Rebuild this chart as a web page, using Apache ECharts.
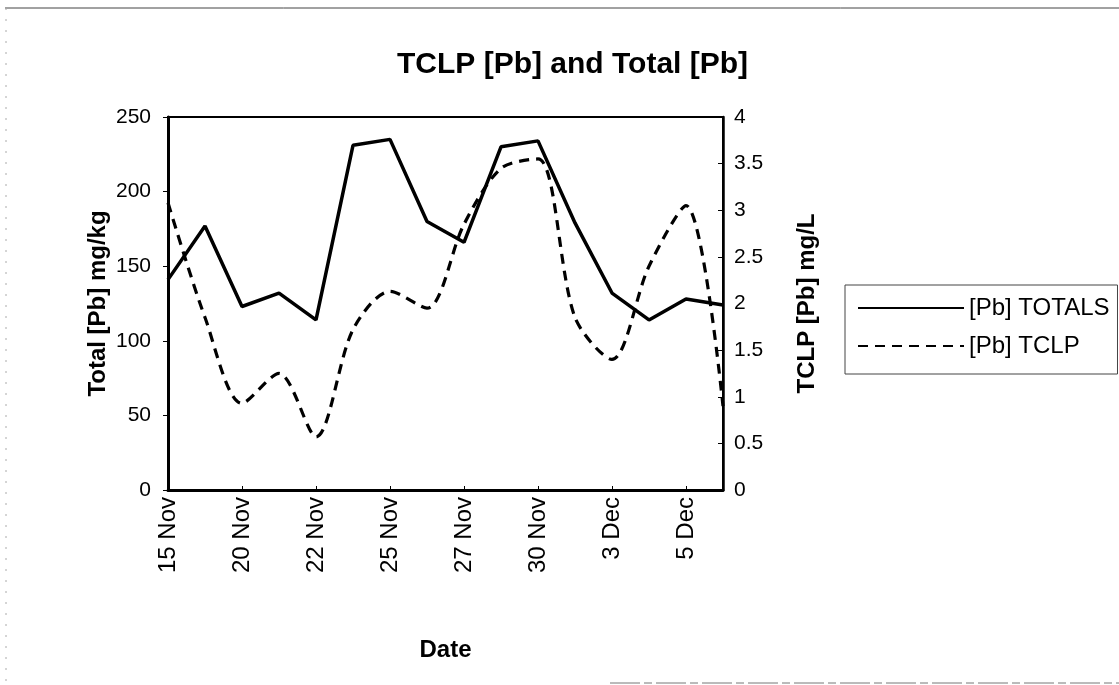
<!DOCTYPE html>
<html>
<head>
<meta charset="utf-8">
<title>TCLP [Pb] and Total [Pb]</title>
<script src="https://cdn.jsdelivr.net/npm/echarts@6/dist/echarts.min.js"></script>
<style>
  html, body { margin: 0; padding: 0; background: #fff; }
  #chart { width: 1119px; height: 685px; }
</style>
</head>
<body>
<div id="chart"></div>
<script>
// Sampling dates (every other one is labelled on the axis)
const dates = ['15 Nov', '18 Nov', '20 Nov', '21 Nov', '22 Nov', '23 Nov', '25 Nov', '26 Nov',
               '27 Nov', '29 Nov', '30 Nov', '1 Dec', '3 Dec', '4 Dec', '5 Dec', '6 Dec'];

// Total lead, mg/kg (left axis)
const totalPb = [141, 177, 123, 132, 114, 231, 235, 180, 166, 230, 234, 179, 132, 114, 128, 124];

// TCLP lead, mg/L (right axis)
const tclpPb = [3.08, 1.85, 0.93, 1.25, 0.57, 1.72, 2.13, 1.95, 2.85, 3.45, 3.55, 1.85, 1.4, 2.4, 3.05, 0.9];

const FONT = '"Liberation Sans", Arial, sans-serif';

const chart = echarts.init(document.getElementById('chart'), null, { renderer: 'canvas' });

chart.setOption({
  backgroundColor: '#fff',
  animation: false,
  title: {
    text: 'TCLP [Pb] and Total [Pb]',
    left: 397,
    top: 50,
    padding: 0,
    textStyle: { fontFamily: FONT, fontSize: 30, fontWeight: 'bold', color: '#000' }
  },
  legend: {
    orient: 'vertical',
    left: 845,
    top: 285,
    padding: [11, 8, 16, 12],
    itemGap: 14,
    itemWidth: 106,
    itemHeight: 14,
    backgroundColor: '#fff',
    borderColor: '#444',
    borderWidth: 1,
    // legend keys are plain line samples, no markers
    itemStyle: { opacity: 0 },
    textStyle: { fontFamily: FONT, fontSize: 24, color: '#000' },
    data: ['[Pb] TOTALS', '[Pb] TCLP']
  },
  grid: {
    left: 168,
    right: 396,
    top: 117,
    bottom: 195,
    show: true,
    borderColor: '#000',
    borderWidth: 2,
    backgroundColor: '#fff'
  },
  xAxis: {
    type: 'category',
    data: dates,
    boundaryGap: false,
    name: 'Date',
    nameLocation: 'middle',
    nameGap: 148,
    nameTextStyle: { fontFamily: FONT, fontSize: 24, fontWeight: 'bold', color: '#000' },
    axisLine: { lineStyle: { color: '#000', width: 3 } },
    axisTick: { show: true, inside: true, length: 4, interval: 1, lineStyle: { color: '#000', width: 1 } },
    axisLabel: {
      interval: 1,
      rotate: 90,
      margin: 7,
      fontFamily: FONT,
      fontSize: 24,
      color: '#000'
    },
    splitLine: { show: false }
  },
  yAxis: [
    {
      type: 'value',
      position: 'left',
      min: 0,
      max: 250,
      interval: 50,
      name: 'Total [Pb] mg/kg',
      nameLocation: 'middle',
      nameGap: 58,
      nameTextStyle: { fontFamily: FONT, fontSize: 24, fontWeight: 'bold', color: '#000' },
      axisLine: { show: true, lineStyle: { color: '#000', width: 3 } },
      axisTick: { show: true, length: 5, lineStyle: { color: '#000', width: 1 } },
      axisLabel: { margin: 17, fontFamily: FONT, fontSize: 21, color: '#000' },
      splitLine: { show: false }
    },
    {
      type: 'value',
      position: 'right',
      min: 0,
      max: 4,
      interval: 0.5,
      name: 'TCLP [Pb] mg/L',
      nameLocation: 'middle',
      nameGap: 72,
      nameTextStyle: { fontFamily: FONT, fontSize: 24, fontWeight: 'bold', color: '#000' },
      axisLine: { show: true, lineStyle: { color: '#000', width: 2.5 } },
      axisTick: { show: true, inside: true, length: 5, lineStyle: { color: '#000', width: 1 } },
      axisLabel: { margin: 11, fontFamily: FONT, fontSize: 21, color: '#000' },
      splitLine: { show: false }
    }
  ],
  series: [
    {
      name: '[Pb] TOTALS',
      type: 'line',
      yAxisIndex: 0,
      data: totalPb,
      symbol: 'none',
      lineStyle: { color: '#000', width: 3.5, type: 'solid' },
      itemStyle: { color: '#000' },
      z: 3
    },
    {
      name: '[Pb] TCLP',
      type: 'line',
      yAxisIndex: 1,
      data: tclpPb,
      symbol: 'none',
      smooth: 0.3,
      lineStyle: { color: '#000', width: 3.2, type: [10, 7] },
      itemStyle: { color: '#000' },
      z: 2
    }
  ],
  graphic: [
    // faint outer frame of the chart sheet
    { type: 'line', shape: { x1: 5, y1: 8, x2: 1119, y2: 8 }, style: { stroke: '#444', lineWidth: 1 }, silent: true },
    { type: 'line', shape: { x1: 6, y1: 8, x2: 6, y2: 685 }, style: { stroke: '#aaa', lineWidth: 1, lineDash: [2, 9] }, silent: true },
    { type: 'line', shape: { x1: 610, y1: 683, x2: 1119, y2: 683 }, style: { stroke: '#777', lineWidth: 1, lineDash: [30, 4, 8, 4] }, silent: true }
  ]
});
</script>
</body>
</html>
